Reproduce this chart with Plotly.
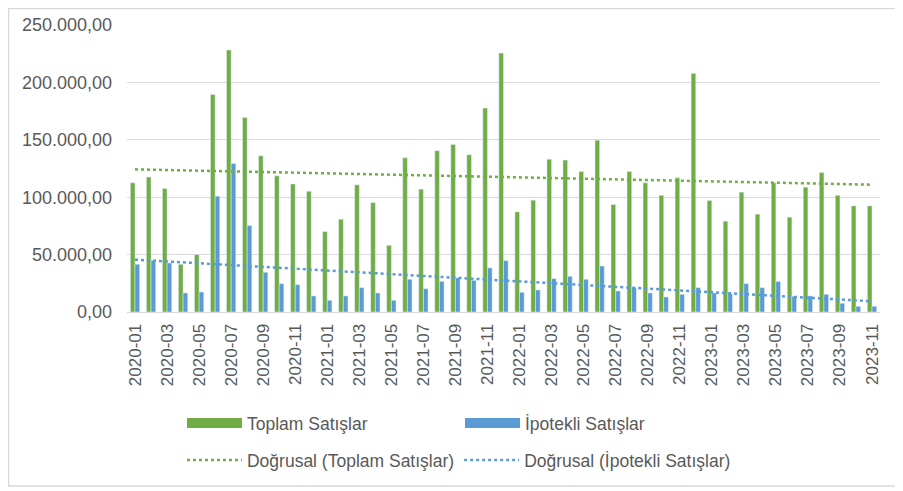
import numpy as np
import plotly.graph_objects as go

# monthly house sales, 2020-01 .. 2023-11
months = [f"{y}-{m:02d}" for y in range(2020, 2024) for m in range(1, 13)][:47]

toplam = [
    112500, 117700, 107600, 41600, 50000, 189500, 228200, 169500, 136000, 118600, 111500, 105200,
    70000, 80800, 110800, 95300, 58100, 134300, 107000, 140400, 146000, 136900, 177600, 225600,
    87200, 97400, 133100, 132300, 122400, 149700, 93600, 122400, 112500, 101700, 116900, 207800,
    97100, 79100, 104400, 85200, 112500, 82600, 108700, 121500, 101700, 92400, 92400,
]
ipotekli = [
    41600, 45000, 42700, 16600, 17400, 100900, 129400, 75300, 34600, 24700, 23800, 14000,
    10200, 14000, 21200, 16600, 10200, 28500, 20300, 26700, 29700, 27600, 38400, 44800,
    17200, 19200, 29100, 31100, 28500, 40100, 18300, 21200, 16600, 13100, 15400, 21200,
    16600, 16000, 24700, 21200, 26500, 13700, 14000, 15400, 7600, 4900, 4900,
]

y_ticks = [0, 50000, 100000, 150000, 200000, 250000]

GREEN = "#70AD47"
BLUE = "#5B9BD5"
TEXT = "#595959"
FONT = "Liberation Sans, Arial, sans-serif"


def trend(values):
    idx = np.arange(len(values))
    k, b = np.polyfit(idx, values, 1)
    return k * idx + b


fig = go.Figure()

fig.add_trace(go.Bar(x=months, y=toplam, name="Toplam Satışlar", marker_color=GREEN,
                     showlegend=False))
fig.add_trace(go.Bar(x=months, y=ipotekli, name="İpotekli Satışlar", marker_color=BLUE,
                     showlegend=False))
fig.add_trace(go.Scatter(x=months, y=trend(toplam), mode="lines",
                         name="Doğrusal (Toplam Satışlar)",
                         line=dict(color=GREEN, width=2.5, dash="dot"), legend="legend2"))
fig.add_trace(go.Scatter(x=months, y=trend(ipotekli), mode="lines",
                         name="Doğrusal (İpotekli Satışlar)",
                         line=dict(color=BLUE, width=2.5, dash="dot"), legend="legend2"))

# legend-only entries so the bar swatches look like wide blocks
for name, color in [("Toplam Satışlar", GREEN), ("İpotekli Satışlar", BLUE)]:
    fig.add_trace(go.Scatter(x=[None], y=[None], mode="lines", name=name,
                             line=dict(color=color, width=10), legend="legend"))

fig.update_layout(
    width=895,
    height=483,
    margin=dict(l=119, r=23, t=17, b=179, autoexpand=False),
    paper_bgcolor="white",
    plot_bgcolor="white",
    separators=",.",
    font=dict(family=FONT, color=TEXT, size=17),
    barmode="group",
    bargap=0.42,
    bargroupgap=0.0,
    legend=dict(orientation="h", x=0.073, y=-0.387, xanchor="left", yanchor="middle",
                entrywidth=208, itemwidth=55, font=dict(size=17.5),
                bgcolor="rgba(0,0,0,0)"),
    legend2=dict(orientation="h", x=0.073, y=-0.516, xanchor="left", yanchor="middle",
                 itemwidth=55, font=dict(size=17.5), bgcolor="rgba(0,0,0,0)"),
    shapes=[dict(type="rect", xref="paper", yref="paper",
                 x0=-0.1574, x1=1.0226, y0=-0.6063, y1=1.0575,
                 line=dict(color="#D9D9D9", width=1.5), layer="below")],
)

fig.update_xaxes(
    type="category",
    tickmode="array",
    tickvals=months[::2],
    tickangle=-90,
    tickfont=dict(size=17),
    showline=True,
    linecolor="#D9D9D9",
    linewidth=1,
    showgrid=False,
    ticks="",
    ticklabelstandoff=4,
)
fig.update_yaxes(
    range=[0, 250000],
    tickvals=y_ticks,
    tickformat=",.2f",
    tickfont=dict(size=18),
    gridcolor="#D9D9D9",
    gridwidth=1,
    zeroline=False,
    ticks="",
    ticklabelstandoff=14,
)

fig.write_html("out.html")
